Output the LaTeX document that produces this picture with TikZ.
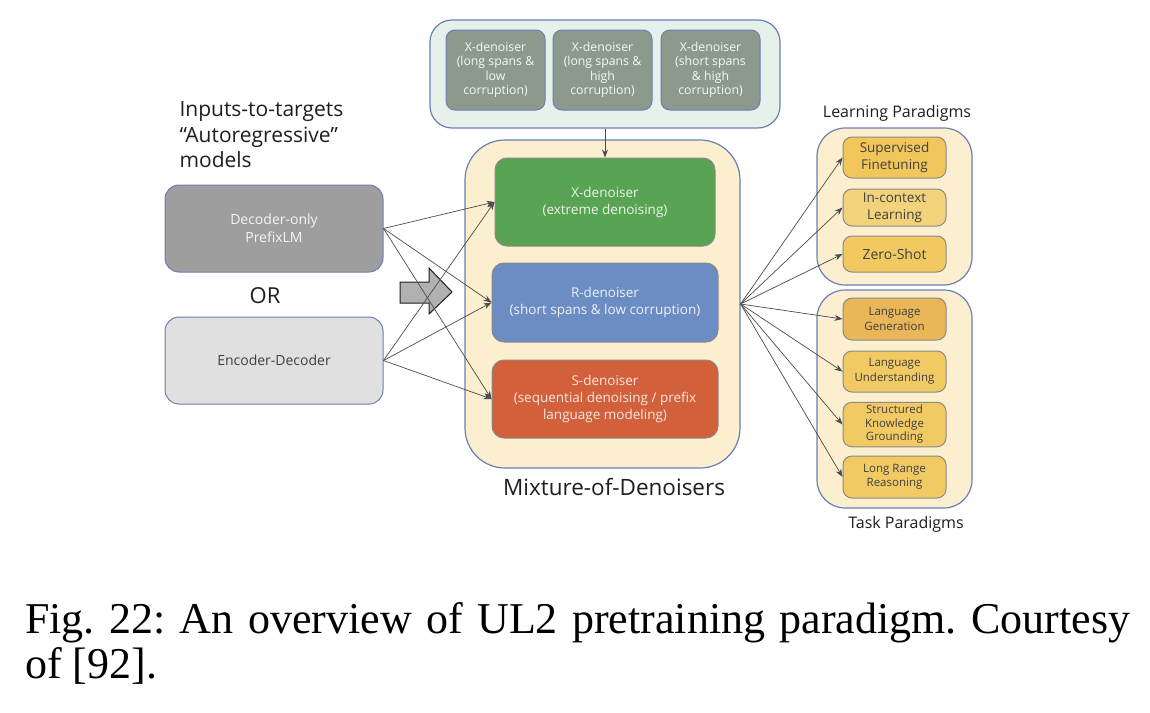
\documentclass[tikz,border=0pt]{standalone}
\usepackage{fontspec}
\setmainfont{Liberation Serif}
\newfontfamily\gsans{Open Sans}
\usepackage{tikz}
\usetikzlibrary{positioning,arrows.meta,calc}
\definecolor{ink}      {HTML}{1E1E1E}
\definecolor{rim}      {HTML}{6B7FB3}
\definecolor{poolfill} {HTML}{E6F1EC}
\definecolor{sage}     {HTML}{8C9A8E}
\definecolor{cream}    {HTML}{FCEFD0}
\definecolor{xgreen}   {HTML}{58A453}
\definecolor{rblue}    {HTML}{6C8CC4}
\definecolor{sred}     {HTML}{D2603B}
\definecolor{decgrey}  {HTML}{9E9E9E}
\definecolor{encgrey}  {HTML}{E0E0E0}
\definecolor{gold}     {HTML}{F1C75B}
\definecolor{lightgold}{HTML}{F2D27A}
\definecolor{amber}    {HTML}{E9B658}
\definecolor{boxedge}  {HTML}{8A8A8A}
\tikzset{
  % --- nodes
  mod/.style    = {rounded corners=9pt, draw=boxedge, line width=1pt, align=center,
                   inner sep=3pt, font=\gsans},
  group/.style  = {rounded corners=28pt, draw=rim, line width=1.2pt, fill=cream},
  xsub/.style   = {mod, draw=rim, fill=sage, text=white!92!sage,
                   minimum width=99pt, minimum height=80pt,
                   font=\gsans\fontsize{12.3}{14.5}\selectfont},
  den/.style    = {mod, rounded corners=12pt, font=\gsans\fontsize{13.5}{17}\selectfont},
  arch/.style   = {mod, rounded corners=14pt, draw=rim, minimum width=218pt, minimum height=87pt,
                   font=\gsans\fontsize{14}{18}\selectfont},
  para/.style   = {mod, fill=lightgold, text=ink!85, minimum width=103pt,
                   font=\gsans\fontsize{13.5}{17}\selectfont},
  task/.style   = {para, fill=gold!70!lightgold, font=\gsans\fontsize{11.5}{14.5}\selectfont},
  heading/.style= {font=\gsans\fontsize{16}{19}\selectfont, text=ink},
  % --- edges
  e/.style      = {-{Stealth[length=8pt,width=6pt]}, line width=0.7pt, draw=ink!80},
}
\begin{document}
\frenchspacing
\begin{tikzpicture}[x=1pt,y=-1pt]
  \useasboundingbox (0,0) rectangle (1150,712);

  % pool of X-denoisers
  \node[group, fill=poolfill, rounded corners=22pt, minimum width=350pt, minimum height=108pt] (pool) at (605,74) {};
  \node[xsub] (xa) at (495.5,70) {X-denoiser\\(long spans \&\\low\\corruption)};
  \node[xsub] (xb) at (602.5,70) {X-denoiser\\(long spans \&\\high\\corruption)};
  \node[xsub] (xc) at (710.5,70) {X-denoiser\\(short spans\\\& high\\corruption)};

  % mixture of denoisers
  \node[group, rounded corners=40pt, minimum width=275pt, minimum height=328pt] (moe) at (602.5,304) {};
  \node[den, fill=xgreen, text=white!88!xgreen, minimum width=220pt, minimum height=88pt] (xden) at (605,202)
    {X-denoiser\\(extreme denoising)};
  \node[den, fill=rblue, text=white!88!rblue, minimum width=226pt, minimum height=79pt] (rden) at (605,302.5)
    {R-denoiser\\(short spans \& low corruption)};
  \node[den, fill=sred, text=white!85!sred, minimum width=226pt, minimum height=78pt] (sden) at (605,399)
    {S-denoiser\\(sequential denoising / prefix\\language modeling)};
  \node[font=\gsans\fontsize{22.5}{26}\selectfont, text=ink] (moelbl) at (614,487) {Mixture-of-Denoisers};

  % model architectures
  \node[anchor=north west, align=left, font=\gsans\fontsize{21}{25.5}\selectfont, text=ink] (inputs) at (176,98)
    {Inputs-to-targets\\“Autoregressive”\\models};
  \node[arch, fill=decgrey, text=white!90!decgrey] (dec) at (274,228.5) {Decoder-only\\PrefixLM};
  \node[font=\gsans\fontsize{22}{26}\selectfont, text=ink] (orlbl) at (265,296) {OR};
  \node[arch, fill=encgrey, text=ink!85] (encdec) at (274,360.5) {Encoder-Decoder};
  \draw[line width=1pt, draw=ink, fill=decgrey!80] (400,282) -- (429,282) -- (429,268) -- (452,292)
    -- (429,314) -- (429,303) -- (400,303) -- cycle;

  % learning paradigms
  \node[heading] (lplbl) at (897,113) {Learning Paradigms};
  \node[group, minimum width=155pt, minimum height=157pt] (lpbox) at (894.5,206.5) {};
  \node[para, fill=gold, minimum height=41pt] (sft) at (894.5,157.5) {Supervised\\Finetuning};
  \node[para, minimum height=37pt] (icl) at (894.5,207.5) {In-context\\Learning};
  \node[para, fill=gold!85!lightgold, minimum height=36pt, font=\gsans\fontsize{14}{17}\selectfont] (zs) at (894.5,254)
    {Zero-Shot};

  % task paradigms
  \node[group, minimum width=155pt, minimum height=218pt] (tpbox) at (894.5,399) {};
  \node[task, fill=amber, minimum height=42pt] (lg) at (894.5,319) {Language\\Generation};
  \node[task, minimum height=41pt] (lu) at (894.5,371.5) {Language\\Understanding};
  \node[task, font=\gsans\fontsize{11.5}{13.5}\selectfont, minimum height=43pt] (skg) at (894.5,424.5)
    {Structured\\Knowledge\\Grounding};
  \node[task, minimum height=42pt] (lrr) at (894.5,477) {Long Range\\Reasoning};
  \node[heading] (tplbl) at (906,524) {Task Paradigms};

  % connectors
  \draw[e] (pool) -- (xden);
  \foreach \src in {dec,encdec} {
    \foreach \dst in {xden,rden,sden}
      \draw[e] (\src.east) -- (\dst.west);
  }
  \foreach \dst in {sft,icl,zs,lg,lu,skg,lrr}
    \draw[e] (moe.east) -- (\dst.west);

  % caption
  \node[anchor=north west, text width=1105pt, align=justify, inner sep=0pt,
        font=\fontsize{44}{45}\selectfont] (cap) at (25,602)
    {Fig.~22: An overview of UL2 pretraining paradigm. Courtesy\linebreak of [92].};
\end{tikzpicture}
\end{document}
